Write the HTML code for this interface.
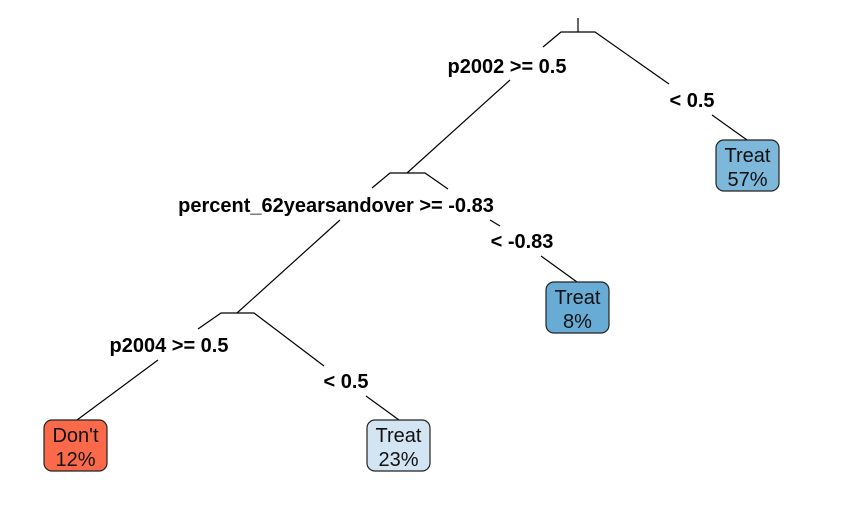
<!DOCTYPE html>
<html><head><meta charset="utf-8"><style>
html,body{margin:0;padding:0;background:#fff;}
svg{display:block;font-family:"Liberation Sans",Arial,sans-serif;}
.lbl{font-weight:bold;font-size:20px;fill:#000;text-anchor:middle;}
.box text{font-size:20px;fill:#111;text-anchor:middle;}
line,polyline{stroke:#000;stroke-width:1.2;fill:none;}
</style></head><body>
<svg id="c" width="848" height="505" viewBox="0 0 848 505">
<g id="edges">
<line x1="578" y1="18" x2="578" y2="32"/>
<polyline points="543,47 561,32 595,32 669,84"/>
<line x1="510" y1="80" x2="407" y2="173"/>
<line x1="712" y1="115" x2="747" y2="140"/>
<polyline points="372,188 390,173 425,173 448,189"/>
<line x1="490" y1="220" x2="500" y2="226"/>
<line x1="541" y1="256" x2="577" y2="282"/>
<line x1="340" y1="220" x2="237" y2="313"/>
<polyline points="198,329 221,313 254,313 324,366"/>
<line x1="158" y1="360" x2="77" y2="420"/>
<line x1="366" y1="396" x2="399" y2="420"/>
</g>
<g id="labels"></g>
<g id="leaves"></g>
</svg>
<script>
const splitLabels=["p2002 >= 0.5","< 0.5","percent_62yearsandover >= -0.83","< -0.83","p2004 >= 0.5","< 0.5"];
const splitNames=["split-p2002-yes","split-p2002-no","split-age-yes","split-age-no","split-p2004-yes","split-p2004-no"];
const leafClasses=["Treat","Treat","Don't","Treat"];
const leafPercents=[57,8,12,23];
const leafColors=["#7db7da","#68acd6","#f9694a","#d3e4f3"];
const labelPos=[[507,73],[692,107],[336,212],[522,248],[169,352],[346,388]];
const leafPos=[[716,140],[546,282],[44,420],[367,420]];
const NS="http://www.w3.org/2000/svg";
const lg=document.getElementById('labels');
splitLabels.forEach((s,i)=>{
  const t=document.createElementNS(NS,'text');
  t.setAttribute('class','lbl');
  t.setAttribute('x',labelPos[i][0]);t.setAttribute('y',labelPos[i][1]);
  t.textContent=s;
  
  
  lg.appendChild(t);
});
const fg=document.getElementById('leaves');
leafClasses.forEach((c,i)=>{
  const g=document.createElementNS(NS,'g');
  g.setAttribute('class','box');
  
  
  const [x,y]=leafPos[i];
  const r=document.createElementNS(NS,'rect');
  r.setAttribute('x',x);r.setAttribute('y',y);r.setAttribute('width',63);r.setAttribute('height',51);
  r.setAttribute('rx',8);r.setAttribute('fill',leafColors[i]);r.setAttribute('stroke','#222');r.setAttribute('stroke-width','1.2');
  g.appendChild(r);
  const t1=document.createElementNS(NS,'text');
  t1.setAttribute('x',x+31.5);t1.setAttribute('y',y+22);t1.textContent=c;g.appendChild(t1);
  const t2=document.createElementNS(NS,'text');
  t2.setAttribute('x',x+31.5);t2.setAttribute('y',y+46);t2.textContent=leafPercents[i]+'%';g.appendChild(t2);
  fg.appendChild(g);
});
</script>
</body></html>
